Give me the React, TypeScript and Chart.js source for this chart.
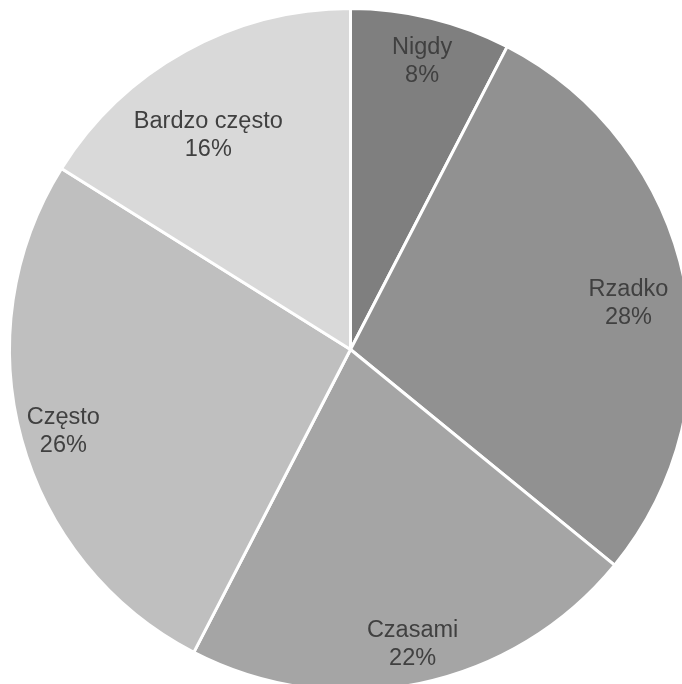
import React, { useEffect, useRef } from "react";
import { Chart, registerables } from "chart.js";

Chart.register(...registerables);

const categories = ["Nigdy", "Rzadko", "Czasami", "Często", "Bardzo często"];
const values = [7.6, 28.3, 21.7, 26.3, 16.1];
const colors = ["#7F7F7F", "#919191", "#A5A5A5", "#BFBFBF", "#D9D9D9"];

// label placement (fraction of radius, angular offset in degrees)
const labelRadius = [0.869, 0.826, 0.883, 0.876, 0.754];
const labelAngleOffset = [0.3, 2.4, -0.2, -0.7, -4.6];

const labelPlugin = {
  id: "sliceLabels",
  afterDatasetsDraw(chart: any) {
    const ctx = chart.ctx;
    const meta = chart.getDatasetMeta(0);
    const data = chart.data.datasets[0].data as number[];
    const total = data.reduce((a, b) => a + b, 0);
    ctx.save();
    ctx.font = "23.5px 'Liberation Sans', Arial, sans-serif";
    ctx.fillStyle = "#404040";
    ctx.textAlign = "center";
    ctx.textBaseline = "middle";
    meta.data.forEach((arc: any, i: number) => {
      const p = arc.getProps(["x", "y", "startAngle", "endAngle", "outerRadius"], true);
      const mid = (p.startAngle + p.endAngle) / 2 + (labelAngleOffset[i] * Math.PI) / 180;
      const r = p.outerRadius * labelRadius[i];
      const x = p.x + Math.cos(mid) * r;
      const y = p.y + Math.sin(mid) * r;
      const pct = Math.round((data[i] / total) * 100) + "%";
      ctx.fillText(chart.data.labels[i], x, y - 14);
      ctx.fillText(pct, x, y + 14);
    });
    ctx.restore();
  },
};

export default function App() {
  const ref = useRef<HTMLCanvasElement | null>(null);
  useEffect(() => {
    if (!ref.current) return;
    const chart = new Chart(ref.current, {
      type: "pie",
      data: {
        labels: categories,
        datasets: [
          {
            data: values,
            backgroundColor: colors,
            borderColor: "#FFFFFF",
            borderWidth: 3,
            radius: 341,
          } as any,
        ],
      },
      options: {
        responsive: false,
        animation: false,
        layout: { padding: 0 },
        plugins: {
          legend: { display: false },
          tooltip: { enabled: false },
        },
      },
      plugins: [labelPlugin],
    });
    return () => chart.destroy();
  }, []);
  return (
    <div
      style={{
        position: "fixed",
        left: 0,
        top: 0,
        width: 682,
        height: 684,
        overflow: "hidden",
        background: "#FFFFFF",
      }}
    >
      <canvas ref={ref} width={701} height={699} style={{ display: "block", width: 701, height: 699 }} />
    </div>
  );
}
